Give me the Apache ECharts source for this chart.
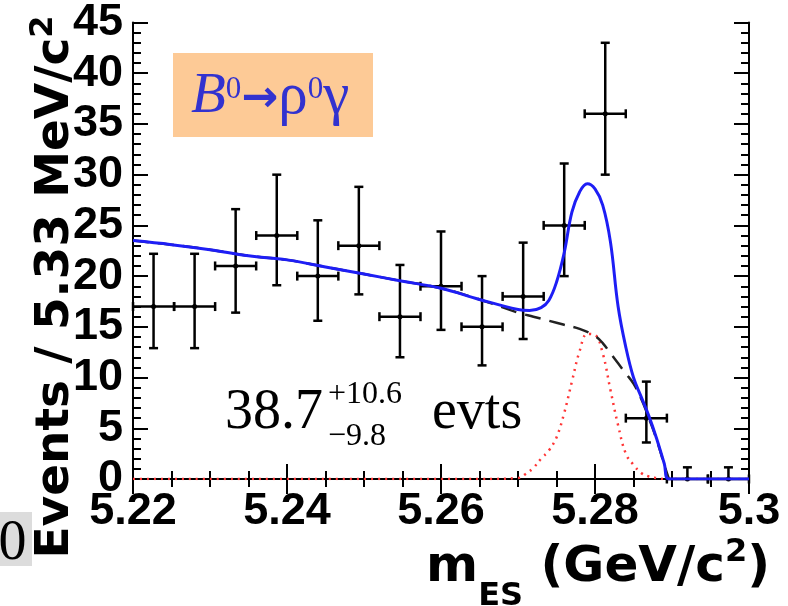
<!DOCTYPE html>
<html><head><meta charset="utf-8">
<script src="https://cdn.jsdelivr.net/npm/echarts@6/dist/echarts.min.js"></script>
<style>html,body{margin:0;padding:0;background:#fff}#c{width:788px;height:606px}</style>
</head><body><div id="c"></div>
<script>
// ---- data ----
const binCenters = [5.22267, 5.228, 5.23333, 5.23867, 5.244, 5.24933, 5.25467, 5.26, 5.26533, 5.27067, 5.276, 5.28133, 5.28667, 5.292, 5.29733];
const counts     = [17, 17, 21, 24, 20, 23, 16, 19, 15, 18, 25, 36, 6, 0, 0];
const errUp      = [5.2, 5.2, 5.6, 6.0, 5.5, 5.8, 5.1, 5.4, 5.0, 5.3, 6.1, 7.0, 3.6, 1.15, 1.15];
const errDown    = [4.1, 4.1, 4.6, 4.9, 4.4, 4.8, 4.0, 4.3, 3.8, 4.2, 5.0, 6.0, 2.4, 0, 0];
const binWidth   = 0.005333;

const totalM = [5.220, 5.225, 5.230, 5.235, 5.240, 5.245, 5.250, 5.255, 5.260, 5.265, 5.270, 5.2715, 5.273, 5.274, 5.275, 5.276, 5.277, 5.278, 5.279, 5.280, 5.281, 5.282, 5.283, 5.284, 5.285, 5.286, 5.287, 5.288, 5.289, 5.2896, 5.295, 5.300];
const totalV = [23.5, 23.1, 22.6, 22.0, 21.6, 20.9, 20.2, 19.5, 18.8, 17.7, 16.7, 16.6, 16.9, 17.6, 19.4, 22.3, 26.3, 28.3, 29.1, 28.6, 27.0, 23.4, 17.0, 13.0, 10.0, 8.1, 6.2, 4.0, 1.5, 0, 0, 0];

const bkgM = [5.220, 5.225, 5.230, 5.235, 5.240, 5.245, 5.250, 5.255, 5.260, 5.265, 5.270, 5.272, 5.274, 5.276, 5.278, 5.280, 5.281, 5.282, 5.283, 5.284, 5.285, 5.286, 5.287, 5.288, 5.289, 5.2896];
const bkgV = [23.5, 23.1, 22.6, 22.0, 21.6, 20.9, 20.2, 19.5, 18.8, 17.7, 16.4, 16.0, 15.6, 15.2, 14.8, 14.1, 13.4, 12.4, 11.4, 10.4, 9.4, 7.9, 6.0, 3.9, 1.4, 0];

const sigM = [5.220, 5.265, 5.270, 5.271, 5.272, 5.273, 5.274, 5.275, 5.276, 5.277, 5.278, 5.279, 5.280, 5.281, 5.282, 5.283, 5.284, 5.285, 5.286, 5.287, 5.288, 5.289, 5.290, 5.300];
const sigV = [0, 0, 0.1, 0.5, 1.1, 2.0, 2.8, 4.1, 6.5, 9.6, 12.6, 14.3, 14.2, 12.4, 8.8, 5.3, 2.5, 1.4, 0.6, 0.25, 0.1, 0, 0, 0];

const xTickValues = [5.22, 5.24, 5.26, 5.28, 5.30];
const xTickLabels = ['5.22', '5.24', '5.26', '5.28', '5.3'];
const yTickValues = [0, 5, 10, 15, 20, 25, 30, 35, 40, 45];
const yTickLabels = ['0', '5', '10', '15', '20', '25', '30', '35', '40', '45'];

// ---- chart ----
const pair = (a, b) => a.map((v, i) => [v, b[i]]);
const lookup = (vals, labels) => v => {
  for (let i = 0; i < vals.length; i++) if (Math.abs(vals[i] - v) < 1e-6) return labels[i];
  return '';
};
const axFont = {fontFamily: 'Liberation Sans', fontWeight: 'bold', fontSize: 45, color: '#000'};

const chart = echarts.init(document.getElementById('c'), null, {renderer: 'canvas'});
const xCommon = {
  type: 'value', min: 5.22, max: 5.30, interval: 0.02,
  axisLine: {show: true, lineStyle: {color: '#000', width: 2}},
  axisTick: {show: true, inside: true, length: 15, lineStyle: {color: '#000', width: 2}},
  minorTick: {show: true, splitNumber: 4, length: 8, lineStyle: {color: '#000', width: 2}},
  splitLine: {show: false}, minorSplitLine: {show: false}
};
const yCommon = {
  type: 'value', min: 0, max: 45, interval: 5,
  axisLine: {show: true, lineStyle: {color: '#000', width: 2}},
  axisTick: {show: true, inside: true, length: 15, lineStyle: {color: '#000', width: 2}},
  minorTick: {show: true, splitNumber: 5, length: 8, lineStyle: {color: '#000', width: 2}},
  splitLine: {show: false}, minorSplitLine: {show: false}
};

const errData = binCenters.map((m, i) => [m, counts[i], counts[i] - errDown[i], counts[i] + errUp[i]]);

chart.setOption({
  animation: false,
  backgroundColor: '#fff',
  grid: {left: 133, top: 19, width: 616, height: 460, containLabel: false},
  xAxis: [
    Object.assign({}, xCommon, {position: 'bottom',
      axisLabel: Object.assign({show: true, margin: 10, formatter: lookup(xTickValues, xTickLabels)}, axFont)}),
    Object.assign({}, xCommon, {position: 'top', axisLabel: {show: false}})
  ],
  yAxis: [
    Object.assign({}, yCommon, {position: 'left',
      axisLabel: Object.assign({show: true, margin: 10, formatter: lookup(yTickValues, yTickLabels)}, axFont)}),
    Object.assign({}, yCommon, {position: 'right', axisLabel: {show: false}})
  ],
  series: [
    {
      type: 'custom', name: 'data', data: errData, z: 2, clip: false,
      encode: {x: 0, y: 1},
      renderItem: (params, api) => {
        const m = api.value(0), v = api.value(1), lo = api.value(2), hi = api.value(3);
        const c = api.coord([m, v]);
        const l = api.coord([m - binWidth / 2, v]);
        const r = api.coord([m + binWidth / 2, v]);
        const t = api.coord([m, hi]);
        const b = api.coord([m, lo]);
        const st = {stroke: '#000', lineWidth: 2.5};
        const cap = 4.5;
        const kids = [
          {type: 'line', shape: {x1: c[0], y1: t[1], x2: c[0], y2: b[1]}, style: st},
          {type: 'line', shape: {x1: l[0], y1: c[1], x2: r[0], y2: c[1]}, style: st},
          {type: 'line', shape: {x1: c[0] - cap, y1: t[1], x2: c[0] + cap, y2: t[1]}, style: st},
          {type: 'line', shape: {x1: l[0], y1: c[1] - cap, x2: l[0], y2: c[1] + cap}, style: st},
          {type: 'line', shape: {x1: r[0], y1: c[1] - cap, x2: r[0], y2: c[1] + cap}, style: st},
          {type: 'circle', shape: {cx: c[0], cy: c[1], r: 2.5}, style: {fill: '#000'}}
        ];
        if (hi - lo > 0 && v - lo > 0) kids.push({type: 'line', shape: {x1: c[0] - cap, y1: b[1], x2: c[0] + cap, y2: b[1]}, style: st});
        return {type: 'group', children: kids};
      }
    },
    {
      type: 'line', name: 'signal', data: pair(sigM, sigV), showSymbol: false, smooth: 0.4, z: 3,
      lineStyle: {color: '#ff3535', width: 2.5, type: [2, 5]}
    },
    {
      type: 'line', name: 'background', data: pair(bkgM, bkgV), showSymbol: false, smooth: 0.4, z: 4,
      lineStyle: {color: '#222', width: 2.5, type: [16, 9]}
    },
    {
      type: 'line', name: 'total', data: pair(totalM, totalV), showSymbol: false, smooth: 0.4, z: 5,
      lineStyle: {color: '#1e1ef5', width: 3}
    }
  ],
  graphic: [
    {type: 'rect', shape: {x: 173, y: 53, width: 200, height: 84}, style: {fill: '#fdca96'}, z: 1},
    {type: 'text', x: 191, y: 97, z: 10, style: {
      text: '{b|B}{s|0}{a|→}{n|ρ}{s|0}{n|γ}', fill: '#3232cf', verticalAlign: 'middle', align: 'left',
      rich: {
        b: {fontFamily: 'Liberation Serif', fontStyle: 'italic', fontSize: 57, fill: '#3232cf', lineHeight: 66, verticalAlign: 'middle'},
        s: {fontFamily: 'Liberation Serif', fontSize: 31, fill: '#3232cf', lineHeight: 34, verticalAlign: 'top', padding: [10, 0, 0, 0]},
        a: {fontFamily: 'DejaVu Sans', fontWeight: 'bold', fontSize: 44, fill: '#3232cf', lineHeight: 66, verticalAlign: 'middle', padding: [6, 0, 0, 0]},
        n: {fontFamily: 'Liberation Serif', fontSize: 59, fill: '#3232cf', lineHeight: 66, verticalAlign: 'middle'}
      }}},
    {type: 'text', x: 225, y: 413, z: 10, style: {text: '38.7', font: '56px "Liberation Serif"', fill: '#000', verticalAlign: 'middle'}},
    {type: 'text', x: 328, y: 395, z: 10, style: {text: '+10.6', font: '32px "Liberation Serif"', fill: '#000', verticalAlign: 'middle'}},
    {type: 'text', x: 328, y: 437, z: 10, style: {text: '\u22129.8', font: '32px "Liberation Serif"', fill: '#000', verticalAlign: 'middle'}},
    {type: 'text', x: 432, y: 413, z: 10, style: {text: 'evts', font: '56px "Liberation Serif"', fill: '#000', verticalAlign: 'middle'}},
    {type: 'rect', shape: {x: 0, y: 512, width: 32, height: 54}, style: {fill: '#dcdcdc'}, z: 1},
    {type: 'text', x: 12.5, y: 544, z: 10, style: {text: '0', font: '56px "Liberation Serif"', fill: '#000', align: 'center', verticalAlign: 'middle'}},
    {type: 'text', x: 56, y: 287, rotation: Math.PI / 2, z: 10, style: {
      text: '{a|Events / 5.33 MeV/c}{s|2}', align: 'center', verticalAlign: 'middle', fill: '#000',
      rich: {
        a: {fontFamily: 'DejaVu Sans', fontWeight: 'bold', fontSize: 47, fill: '#000', lineHeight: 56, verticalAlign: 'middle'},
        s: {fontFamily: 'DejaVu Sans', fontWeight: 'bold', fontSize: 32, fill: '#000', lineHeight: 56, verticalAlign: 'top'}
      }}},
    {type: 'text', x: 770, y: 568, z: 10, style: {
      text: '{a|m}{d|ES}{a| (GeV/c}{s|2}{a|)}', align: 'right', verticalAlign: 'middle', fill: '#000',
      rich: {
        a: {fontFamily: 'DejaVu Sans', fontWeight: 'bold', fontSize: 50, fill: '#000', lineHeight: 90, verticalAlign: 'middle'},
        d: {fontFamily: 'DejaVu Sans', fontWeight: 'bold', fontSize: 32, fill: '#000', lineHeight: 30, verticalAlign: 'bottom'},
        s: {fontFamily: 'DejaVu Sans', fontWeight: 'bold', fontSize: 32, fill: '#000', lineHeight: 30, verticalAlign: 'top', padding: [14, 0, 0, 0]}
      }}}
  ]
});
</script></body></html>
